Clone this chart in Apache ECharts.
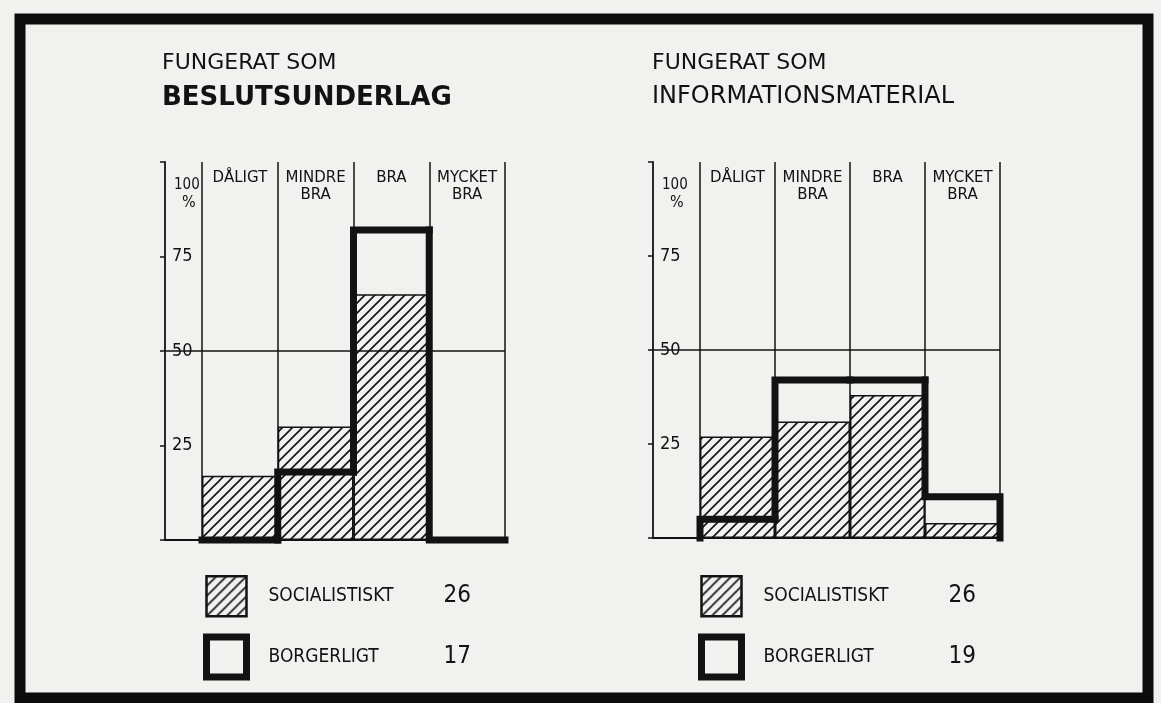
<!DOCTYPE html>
<html>
<head>
<meta charset="utf-8">
<script src="https://cdn.jsdelivr.net/npm/echarts@6/dist/echarts.min.js"></script>
<style>
  html, body { margin: 0; padding: 0; background: #f1f1ef; }
  #chart { width: 1161px; height: 703px; }
</style>
</head>
<body>
<div id="chart"></div>
<script>
// ---- data ----
const categories = ['DÅLIGT', 'MINDRE\nBRA', 'BRA', 'MYCKET\nBRA'];
const yTickLabels = ['', '25', '50', '75', ''];
const seriesNames = ['SOCIALISTISKT', 'BORGERLIGT'];

// Fungerat som beslutsunderlag (% per answer)
const socBeslut = [17, 30, 65, 0];
const borgBeslut = [0, 18, 82, 0];
const nBeslut = [26, 17];

// Fungerat som informationsmaterial (% per answer)
const socInfo = [27, 31, 38, 4];
const borgInfo = [5, 42, 42, 11];
const nInfo = [26, 19];

const titleSmall = 'FUNGERAT SOM';
const titleBig = ['BESLUTSUNDERLAG', 'INFORMATIONSMATERIAL'];

// ---- styling helpers ----
const INK = '#121212';
const PAPER = '#f1f1ef';
const FONT = '"DejaVu Sans", "Noto Sans", sans-serif';
const COND = '"DejaVu Sans Condensed", "Liberation Sans Narrow", "DejaVu Sans", sans-serif';

// diagonal hatch tile used as a repeating fill
function hatchTile() {
  const s = 10;
  const c = document.createElement('canvas');
  c.width = s; c.height = s;
  const g = c.getContext('2d');
  g.strokeStyle = INK;
  g.lineWidth = 1.6;
  g.beginPath();
  g.moveTo(0, s); g.lineTo(s, 0);
  g.moveTo(-s / 2, s / 2); g.lineTo(s / 2, -s / 2);
  g.moveTo(s / 2, s * 1.5); g.lineTo(s * 1.5, s / 2);
  g.stroke();
  return c;
}
const hatch = { image: hatchTile(), repeat: 'repeat' };

// outline of a histogram drawn as a thick stepped line
function stepRenderer(values) {
  return function (params, api) {
    const i = api.value(0);
    const v = api.value(1);
    const prev = i === 0 ? 0 : values[i - 1];
    const top = api.coord([i, v]);
    const half = api.size([1, 0])[0] / 2;
    const xl = top[0] - half, xr = top[0] + half;
    const yPrev = api.coord([i, prev])[1];
    const pts = [[xl, yPrev], [xl, top[1]], [xr, top[1]]];
    if (i === values.length - 1) pts.push([xr, api.coord([i, 0])[1]]);
    return {
      type: 'polyline',
      shape: { points: pts },
      style: { fill: null, stroke: INK, lineWidth: 7, lineJoin: 'miter', lineCap: 'square' }
    };
  };
}

const panels = [
  { axisLeft: 165, barLeft: 202, right: 505, top: 162, bottom: 540, soc: socBeslut, borg: borgBeslut, n: nBeslut, titleLeft: 157, bold: true, legendLeft: 198, nameWidth: 175 },
  { axisLeft: 653, barLeft: 700, right: 1000, top: 162, bottom: 538, soc: socInfo, borg: borgInfo, n: nInfo, titleLeft: 647, bold: false, legendLeft: 693, nameWidth: 185 }
];

const grid = [], xAxis = [], yAxis = [], series = [], legend = [], title = [];

panels.forEach((p, k) => {
  const h = p.bottom - p.top;
  const fg = 2 * k, bg = 2 * k + 1;
  // frame grid: y scale, baseline and the 50 % line
  grid.push({ left: p.axisLeft, top: p.top, width: p.right - p.axisLeft, height: h });
  // column grid: one column per answer
  grid.push({ left: p.barLeft, top: p.top, width: p.right - p.barLeft, height: h });

  xAxis.push({
    gridIndex: fg, type: 'value', min: 0, max: 1,
    axisLine: { show: true, onZero: false, lineStyle: { color: INK, width: 2 } },
    axisTick: { show: false }, axisLabel: { show: false }, splitLine: { show: false }
  });
  xAxis.push({
    gridIndex: bg, type: 'category', data: categories, position: 'top',
    axisLine: { show: false }, axisTick: { show: false },
    axisLabel: { inside: true, interval: 0, margin: 8, fontSize: 15, lineHeight: 17, color: INK, fontFamily: FONT },
    splitLine: { show: true, interval: 0, lineStyle: { color: INK, width: 1.5 } }
  });

  yAxis.push({
    gridIndex: fg, type: 'value', min: 0, max: 100, interval: 25,
    axisLine: { show: true, lineStyle: { color: INK, width: 1.8 } },
    axisTick: { show: true, length: 5, lineStyle: { color: INK, width: 1.5 } },
    axisLabel: {
      inside: true, margin: 7, fontSize: 18, color: INK, fontFamily: COND,
      formatter: (v) => yTickLabels[v / 25]
    },
    splitLine: {
      show: true,
      lineStyle: { color: [INK, 'rgba(0,0,0,0)', INK, 'rgba(0,0,0,0)', 'rgba(0,0,0,0)'], width: 1.5 }
    }
  });
  yAxis.push({ gridIndex: bg, type: 'value', min: 0, max: 100, show: false });

  series.push({
    type: 'bar', name: seriesNames[0], xAxisIndex: bg, yAxisIndex: bg,
    data: p.soc, barWidth: '100%', silent: true,
    itemStyle: { color: hatch, borderColor: INK, borderWidth: 1.5 }
  });
  series.push({
    type: 'custom', name: seriesNames[1], xAxisIndex: bg, yAxisIndex: bg,
    data: p.borg.map((v, i) => [i, v]), renderItem: stepRenderer(p.borg), z: 5, silent: true
  });

  legend.push({
    left: p.legendLeft, top: 570, orient: 'vertical', icon: 'rect',
    itemWidth: 40, itemHeight: 40, itemGap: 16, selectedMode: false,
    data: [
      { name: seriesNames[0], itemStyle: { borderColor: INK, borderWidth: 2.5 } },
      { name: seriesNames[1], itemStyle: { color: PAPER, borderColor: INK, borderWidth: 7 } }
    ],
    formatter: (name) => `{n|${name}}{c|${p.n[seriesNames.indexOf(name)]}}`,
    textStyle: {
      color: INK,
      rich: {
        n: { width: p.nameWidth, padding: [0, 0, 0, 17], fontSize: 19, fontFamily: COND, color: INK },
        c: { fontSize: 24, fontFamily: COND, color: INK }
      }
    }
  });

  title.push({ text: titleSmall, left: p.titleLeft, top: 47, textStyle: { fontSize: 22, fontWeight: 'normal', color: INK, fontFamily: FONT } });
  title.push({ text: titleBig[k], left: p.titleLeft, top: 80, textStyle: { fontSize: p.bold ? 26 : 24, fontWeight: p.bold ? 'bold' : 'normal', color: INK, fontFamily: FONT } });
  title.push({ text: '100', left: p.axisLeft + 4, top: 173, textStyle: { fontSize: 15, fontWeight: 'normal', color: INK, fontFamily: COND } });
  title.push({ text: '%', left: p.axisLeft + 12, top: 190, textStyle: { fontSize: 16, fontWeight: 'normal', color: INK, fontFamily: COND } });
});

const chart = echarts.init(document.getElementById('chart'), null, { renderer: 'canvas' });
chart.setOption({
  backgroundColor: PAPER,
  animation: false,
  title, grid, xAxis, yAxis, series, legend,
  graphic: [{
    type: 'rect', silent: true,
    shape: { x: 20, y: 19, width: 1128, height: 679 },
    style: { fill: null, stroke: '#0c0c0c', lineWidth: 11 }
  }]
});
</script>
</body>
</html>
